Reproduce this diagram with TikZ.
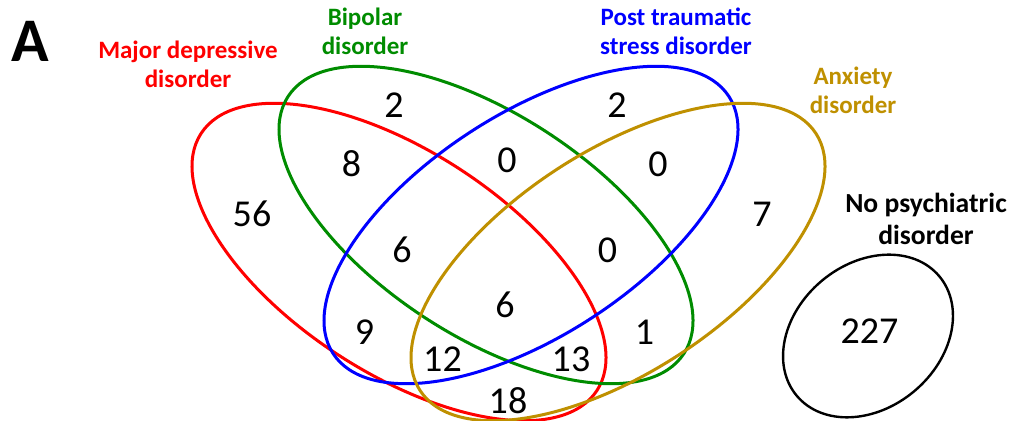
\documentclass[tikz,border=0pt]{standalone}
\usepackage{fontspec}
\setmainfont{Carlito}
\usepackage{tikz}
\definecolor{mddred}{RGB}{255,0,0}
\definecolor{bpgreen}{RGB}{0,140,0}
\definecolor{ptsdblue}{RGB}{0,0,255}
\definecolor{anxgold}{RGB}{191,144,0}

\begin{document}
\begin{tikzpicture}[x=0.5pt,y=-0.5pt,
  set line/.style={line width=1.5pt},
  count node/.style={anchor=base,inner sep=0pt,font=\fontsize{19}{22}\selectfont},
  set label/.style={anchor=base,inner sep=0pt,align=center,
    font=\bfseries\fontsize{12.5}{14.5}\selectfont}]
  \useasboundingbox (0,0) rectangle (1011,421);
  % the four sets and the empty one
  \draw[set line,mddred,rotate around={-33:(399,262)}]   (399,262) ellipse [x radius=236,y radius=111];
  \draw[set line,bpgreen,rotate around={-33:(486,225)}]  (486,225) ellipse [x radius=236,y radius=111];
  \draw[set line,ptsdblue,rotate around={33:(531,225)}]  (531,225) ellipse [x radius=236,y radius=111];
  \draw[set line,anxgold,rotate around={33:(618,262)}]   (618,262) ellipse [x radius=236,y radius=111];
  \draw[line width=1.2pt,rotate around={40:(868,336)}]   (868,336) ellipse [x radius=93,y radius=72];
  % labels (base = last line)
  \node[anchor=base,inner sep=0pt,font=\bfseries\fontsize{31}{36}\selectfont] (A) at (30,62) {A};
  \node[set label,mddred]   (mddtxt)  at (188,88)  {Major depressive\\disorder};
  \node[set label,bpgreen]  (bptxt)   at (365,55)  {Bipolar\\disorder};
  \node[set label,ptsdblue] (ptsdtxt) at (676,55)  {Post traumatic\\stress disorder};
  \node[set label,anxgold]  (anxtxt)  at (853,114) {Anxiety\\disorder};
  \node[set label,font=\bfseries\fontsize{13.8}{16}\selectfont] (nonetxt) at (926,245) {No psychiatric\\disorder};
  % counts
  \node[count node] (m)    at (252,227)   {56};
  \node[count node] (b)    at (394,118)   {2};
  \node[count node] (mb)   at (351.5,177) {8};
  \node[count node] (bp)   at (507,173)   {0};
  \node[count node] (p)    at (617,118)   {2};
  \node[count node] (pa)   at (658,177)   {0};
  \node[count node] (a)    at (762,227)   {7};
  \node[count node] (mbp)  at (402,263)   {6};
  \node[count node] (bpa)  at (607.5,263) {0};
  \node[count node] (mbpa) at (505,318)   {6};
  \node[count node] (mp)   at (364.5,345) {9};
  \node[count node] (mpa)  at (442.5,372) {12};
  \node[count node] (mba)  at (571,372)   {13};
  \node[count node] (ba)   at (644.5,345) {1};
  \node[count node] (ma)   at (508,414)   {18};
  \node[count node] (n)    at (869.5,344) {227};
\end{tikzpicture}
\end{document}
